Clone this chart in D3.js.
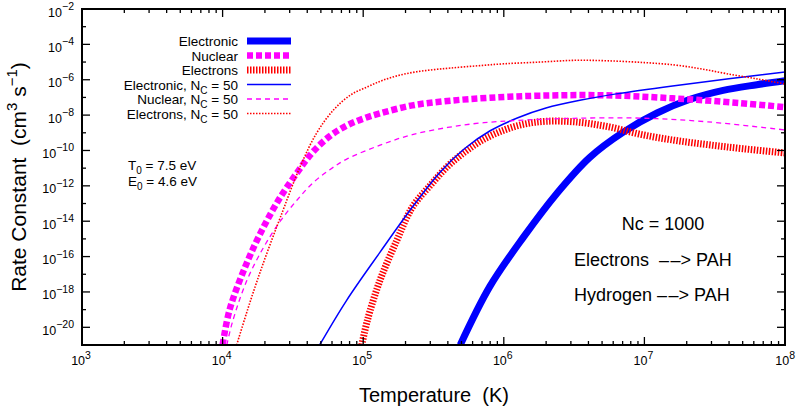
<!DOCTYPE html>
<html>
<head>
<meta charset="utf-8">
<script src="https://cdn.jsdelivr.net/npm/d3@7"></script>
<style>
  body { margin: 0; background: #fff; }
  svg { display: block; font-family: "Liberation Sans", Arial, sans-serif; }
  svg text { white-space: pre; }
</style>
</head>
<body>
<div id="chart"></div>
<script>
// log10 of temperature (K) and log10 of rate constant (cm^3 s^-1)
const electronicLogT = [5.69, 5.90, 6.14, 6.38, 6.61, 6.85, 7.09, 7.32, 7.56, 7.80, 8.0];
const electronicLogK = [-21.0, -17.7, -14.9, -12.4, -10.4, -8.96, -7.88, -7.12, -6.6, -6.28, -6.05];

const nuclearLogT = [4.0, 4.05, 4.17, 4.29, 4.41, 4.53, 4.64, 4.76, 4.88, 5.0, 5.12, 5.35, 5.6, 5.9, 6.26, 6.73, 7.2, 7.68, 8.0];
const nuclearLogK = [-21.0, -19.0, -16.4, -14.35, -12.65, -11.25, -10.1, -9.2, -8.6, -8.2, -7.9, -7.45, -7.2, -7.02, -6.9, -6.88, -7.05, -7.32, -7.55];

const electronsLogT = [4.99, 5.03, 5.12, 5.24, 5.35, 5.48, 5.6, 5.72, 5.85, 6.0, 6.15, 6.3, 6.5, 6.74, 6.98, 7.22, 7.46, 7.7, 8.0];
const electronsLogK = [-21.0, -19.6, -17.33, -15.07, -13.2, -11.95, -10.9, -10.1, -9.4, -8.85, -8.5, -8.35, -8.38, -8.65, -9.1, -9.43, -9.68, -9.9, -10.14];

const electronic50LogT = [4.69, 4.88, 5.12, 5.35, 5.55, 5.72, 5.9, 6.1, 6.3, 6.55, 6.8, 7.2, 7.6, 8.0];
const electronic50LogK = [-21.0, -18.5, -15.75, -13.2, -11.2, -9.9, -8.9, -8.15, -7.6, -7.15, -6.8, -6.35, -5.95, -5.56];

const nuclear50LogT = [4.03, 4.07, 4.17, 4.29, 4.41, 4.53, 4.64, 4.76, 4.88, 5.12, 5.35, 5.6, 5.83, 6.1, 6.5, 6.97, 7.45, 8.0];
const nuclear50LogK = [-21.0, -19.7, -17.4, -15.5, -14.0, -12.8, -11.85, -11.1, -10.5, -9.7, -9.1, -8.7, -8.45, -8.3, -8.18, -8.17, -8.38, -8.84];

const electrons50LogT = [4.10, 4.17, 4.24, 4.32, 4.41, 4.55, 4.67, 4.79, 4.91, 5.03, 5.14, 5.26, 5.38, 5.5, 5.62, 5.8, 6.0, 6.26, 6.51, 6.74, 7.0, 7.22, 7.4, 7.58, 7.8, 8.0];
const electrons50LogK = [-21.0, -19.2, -17.5, -15.7, -13.8, -10.94, -9.0, -7.7, -6.86, -6.4, -6.03, -5.74, -5.55, -5.43, -5.34, -5.22, -5.1, -5.0, -4.9, -4.93, -5.03, -5.17, -5.38, -5.65, -5.95, -6.24];

const legendLabels = ["Electronic", "Nuclear", "Electrons", "Electronic, N", "Nuclear, N", "Electrons, N"];
const xTickExponents = [3, 4, 5, 6, 7, 8];
const yTickExponents = [-2, -4, -6, -8, -10, -12, -14, -16, -18, -20];

const width = 796, height = 408;
const plot = { left: 82, right: 785, top: 9, bottom: 345 };

const svg = d3.select("#chart").append("svg")
    .attr("width", width)
    .attr("height", height);

const x = d3.scaleLog().domain([1e3, 1e8]).range([plot.left, plot.right]);
const y = d3.scaleLog().domain([1e-21, 1e-2]).range([plot.bottom, plot.top]);

// Clip path for the curves
svg.append("defs").append("clipPath")
    .attr("id", "plot-clip")
    .append("rect")
    .attr("x", plot.left)
    .attr("y", plot.top)
    .attr("width", plot.right - plot.left)
    .attr("height", plot.bottom - plot.top);

// Series styles
const series = [
    { label: legendLabels[0], t: electronicLogT, k: electronicLogK, color: "#0000ff", width: 7, dash: null, sub: false },
    { label: legendLabels[1], t: nuclearLogT, k: nuclearLogK, color: "#ff00ff", width: 6.5, dash: "6,3", sub: false },
    { label: legendLabels[2], t: electronsLogT, k: electronsLogK, color: "#ff0000", width: 7, dash: "1.5,1.5", sub: false },
    { label: legendLabels[3], t: electronic50LogT, k: electronic50LogK, color: "#0000ff", width: 1.5, dash: null, sub: true },
    { label: legendLabels[4], t: nuclear50LogT, k: nuclear50LogK, color: "#ff00ff", width: 1.3, dash: "5,4", sub: true },
    { label: legendLabels[5], t: electrons50LogT, k: electrons50LogK, color: "#ff0000", width: 1.6, dash: "1.5,1.5", sub: true }
];

const line = d3.line()
    .x(d => x(Math.pow(10, d[0])))
    .y(d => y(Math.pow(10, d[1])))
    .curve(d3.curveCatmullRom.alpha(0.5));

// Curves
svg.append("g")
    .attr("clip-path", "url(#plot-clip)")
    .selectAll("path")
    .data(series)
    .enter()
    .append("path")
    .attr("d", s => line(d3.zip(s.t, s.k)))
    .attr("fill", "none")
    .attr("stroke", s => s.color)
    .attr("stroke-width", s => s.width)
    .attr("stroke-dasharray", s => s.dash);

// Ticks on all four sides, pointing inward
const ticks = svg.append("g")
    .attr("stroke", "#000")
    .attr("stroke-width", 1.3);

for (let e = 3; e <= 8; e++) {
    for (let m = 1; m <= 9; m++) {
        if (e === 8 && m > 1) break;
        const v = m * Math.pow(10, e);
        const len = (m === 1) ? 8 : 4;
        ticks.append("line")
            .attr("x1", x(v)).attr("x2", x(v))
            .attr("y1", plot.bottom).attr("y2", plot.bottom - len);
        ticks.append("line")
            .attr("x1", x(v)).attr("x2", x(v))
            .attr("y1", plot.top).attr("y2", plot.top + len);
    }
}

for (let e = -21; e <= -2; e++) {
    const v = Math.pow(10, e);
    const len = (e % 2 === 0) ? 8 : 4;
    ticks.append("line")
        .attr("x1", plot.left).attr("x2", plot.left + len)
        .attr("y1", y(v)).attr("y2", y(v));
    ticks.append("line")
        .attr("x1", plot.right).attr("x2", plot.right - len)
        .attr("y1", y(v)).attr("y2", y(v));
}

// Frame
svg.append("rect")
    .attr("x", plot.left)
    .attr("y", plot.top)
    .attr("width", plot.right - plot.left)
    .attr("height", plot.bottom - plot.top)
    .attr("fill", "none")
    .attr("stroke", "#000")
    .attr("stroke-width", 2);

// Y tick labels
const yLabels = svg.append("g")
    .selectAll("text")
    .data(yTickExponents)
    .enter()
    .append("text")
    .attr("x", 74)
    .attr("y", e => y(Math.pow(10, e)) + 7.5)
    .attr("text-anchor", "end")
    .attr("font-size", 12.5);
yLabels.append("tspan").text("10");
yLabels.append("tspan")
    .attr("dy", -6.5)
    .attr("font-size", 10.5)
    .text(e => "\u2212" + Math.abs(e));

// X tick labels
const xLabels = svg.append("g")
    .selectAll("text")
    .data(xTickExponents)
    .enter()
    .append("text")
    .attr("x", e => e === 8 ? 795 : x(Math.pow(10, e)) - 1)
    .attr("y", 365)
    .attr("text-anchor", e => e === 8 ? "end" : "middle")
    .attr("font-size", 12.5);
xLabels.append("tspan").text("10");
xLabels.append("tspan")
    .attr("dy", -6.5)
    .attr("font-size", 10.5)
    .text(e => e);

// Axis titles
svg.append("text")
    .attr("x", 434)
    .attr("y", 401.5)
    .attr("text-anchor", "middle")
    .attr("font-size", 20)
    .text("Temperature  (K)");

const yTitle = svg.append("text")
    .attr("transform", "translate(26,177) rotate(-90)")
    .attr("text-anchor", "middle")
    .attr("font-size", 21);
yTitle.append("tspan").text("Rate Constant  (cm");
yTitle.append("tspan").attr("dy", -9).attr("font-size", 15).text("3");
yTitle.append("tspan").attr("dy", 9).text(" s");
yTitle.append("tspan").attr("dy", -9).attr("font-size", 15).text("\u22121");
yTitle.append("tspan").attr("dy", 9).text(")");

// Legend
const legendRowY = [41, 55.5, 70, 84.5, 99, 113.5];
const legend = svg.append("g")
    .selectAll("g")
    .data(series)
    .enter()
    .append("g")
    .attr("transform", (s, i) => "translate(0," + legendRowY[i] + ")");

legend.append("line")
    .attr("x1", 247).attr("x2", 291)
    .attr("y1", 0).attr("y2", 0)
    .attr("stroke", s => s.color)
    .attr("stroke-width", s => s.width)
    .attr("stroke-dasharray", s => s.dash);

const legendText = legend.append("text")
    .attr("x", 238)
    .attr("y", 5)
    .attr("text-anchor", "end")
    .attr("font-size", 13.5);
legendText.append("tspan").text(s => s.label);
legendText.filter(s => s.sub).append("tspan")
    .attr("dy", 4)
    .attr("font-size", 10)
    .text("C");
legendText.filter(s => s.sub).append("tspan")
    .attr("dy", -4)
    .text(" = 50");

// Annotations
const t0 = svg.append("text").attr("x", 128).attr("y", 170).attr("font-size", 13.5);
t0.append("tspan").text("T");
t0.append("tspan").attr("dy", 4).attr("font-size", 10).text("0");
t0.append("tspan").attr("dy", -4).text(" = 7.5 eV");

const e0 = svg.append("text").attr("x", 128).attr("y", 186).attr("font-size", 13.5);
e0.append("tspan").text("E");
e0.append("tspan").attr("dy", 4).attr("font-size", 10).text("0");
e0.append("tspan").attr("dy", -4).text(" = 4.6 eV");

svg.append("text")
    .attr("x", 663).attr("y", 230)
    .attr("text-anchor", "middle")
    .attr("font-size", 18)
    .text("Nc = 1000");

svg.append("text")
    .attr("x", 574).attr("y", 265.5)
    .attr("font-size", 18)
    .text("Electrons  \u2013\u200a\u2013> PAH");

svg.append("text")
    .attr("x", 574).attr("y", 301)
    .attr("font-size", 18)
    .text("Hydrogen \u2013\u200a\u2013> PAH");
</script>
</body>
</html>
